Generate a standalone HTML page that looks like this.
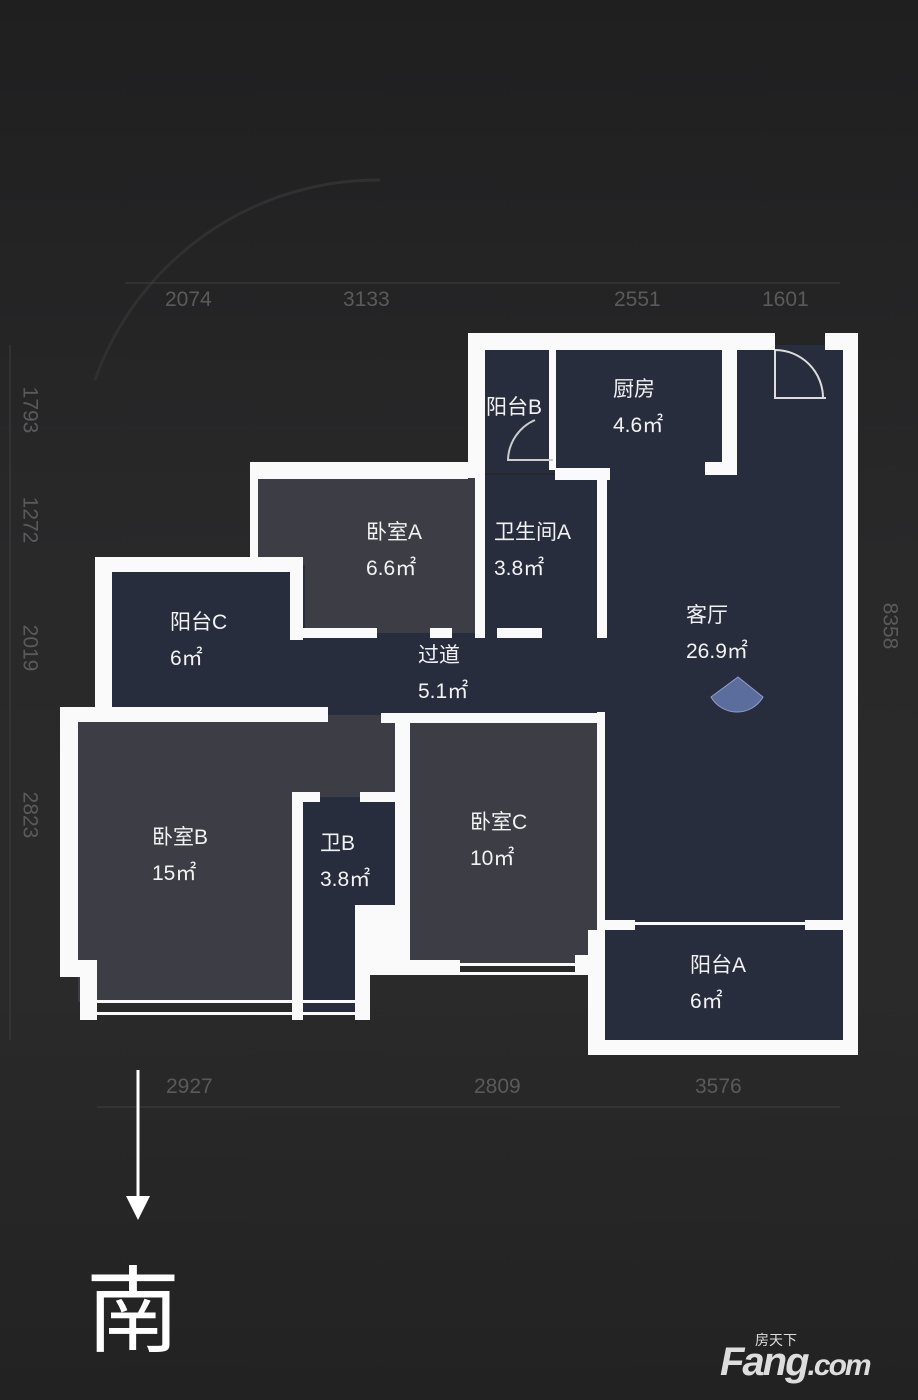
<!DOCTYPE html>
<html><head><meta charset="utf-8"><style>
body{margin:0;width:918px;height:1400px;overflow:hidden;background:linear-gradient(#1f1f20,#29292a 40%,#2a2a2b 70%,#222 100%);font-family:"Liberation Sans","Noto Sans CJK SC",sans-serif;position:relative}
.r{position:absolute}
.n{background:#272d3d}
.g{background:#3d3e45}
.w{background:#fafafa;position:absolute}
.t{position:absolute;color:#f2f2f2;font-size:21px;line-height:36px}
.d{position:absolute;color:#5a5a5a;font-size:21px}
</style></head><body>
<svg class="r" style="left:0;top:0" width="918" height="1400">
<path d="M95 380 A300 300 0 0 1 380 180" stroke="#303030" stroke-width="3" fill="none"/>
<line x1="125" y1="283" x2="840" y2="283" stroke="#3e3e3e"/>
<line x1="10" y1="345" x2="10" y2="1040" stroke="#3e3e3e"/>
<line x1="97" y1="1107" x2="840" y2="1107" stroke="#3e3e3e"/>
<line x1="138" y1="1070" x2="138" y2="1200" stroke="#fff" stroke-width="3"/>
<polygon points="126,1196 150,1196 138,1220" fill="#fff"/>
</svg>
<div class="d" style="left:165px;top:288px">2074</div>
<div class="d" style="left:343px;top:288px">3133</div>
<div class="d" style="left:614px;top:288px">2551</div>
<div class="d" style="left:762px;top:288px">1601</div>
<div class="d" style="left:166px;top:1075px">2927</div>
<div class="d" style="left:474px;top:1075px">2809</div>
<div class="d" style="left:695px;top:1075px">3576</div>
<div class="d" style="left:6px;top:398px;transform:rotate(90deg)">1793</div>
<div class="d" style="left:6px;top:508px;transform:rotate(90deg)">1272</div>
<div class="d" style="left:6px;top:636px;transform:rotate(90deg)">2019</div>
<div class="d" style="left:6px;top:803px;transform:rotate(90deg)">2823</div>
<div class="d" style="left:866px;top:614px;transform:rotate(90deg)">8358</div>

<div class="r n" style="left:603px;top:345px;width:242px;height:590px"></div>
<div class="r n" style="left:480px;top:345px;width:250px;height:128px"></div>
<div class="r g" style="left:258px;top:475px;width:220px;height:158px"></div>
<div class="r n" style="left:480px;top:475px;width:125px;height:158px"></div>
<div class="r n" style="left:105px;top:565px;width:200px;height:150px"></div>
<div class="r n" style="left:298px;top:633px;width:310px;height:82px"></div>
<div class="r g" style="left:78px;top:715px;width:222px;height:287px"></div>
<div class="r g" style="left:300px;top:715px;width:100px;height:85px"></div>
<div class="r n" style="left:300px;top:797px;width:60px;height:215px"></div>
<div class="r n" style="left:300px;top:797px;width:97px;height:110px"></div>
<div class="r g" style="left:405px;top:715px;width:195px;height:248px"></div>
<div class="r n" style="left:600px;top:930px;width:245px;height:115px"></div>

<div class="w" style="left:468px;top:333px;width:307px;height:17px"></div>
<div class="w" style="left:825px;top:333px;width:33px;height:17px"></div>
<div class="w" style="left:843px;top:333px;width:15px;height:722px"></div>
<div class="w" style="left:468px;top:333px;width:17px;height:145px"></div>
<div class="w" style="left:549px;top:350px;width:7px;height:120px"></div>
<div class="w" style="left:722px;top:350px;width:15px;height:125px"></div>
<div class="w" style="left:705px;top:462px;width:32px;height:13px"></div>
<div class="w" style="left:250px;top:462px;width:218px;height:17px"></div>
<div class="w" style="left:555px;top:468px;width:55px;height:12px"></div>
<div class="w" style="left:250px;top:462px;width:8px;height:110px"></div>
<div class="w" style="left:475px;top:478px;width:10px;height:160px"></div>
<div class="w" style="left:597px;top:478px;width:10px;height:160px"></div>
<div class="w" style="left:293px;top:628px;width:84px;height:10px"></div>
<div class="w" style="left:430px;top:628px;width:22px;height:10px"></div>
<div class="w" style="left:497px;top:628px;width:45px;height:10px"></div>
<div class="w" style="left:95px;top:557px;width:208px;height:15px"></div>
<div class="w" style="left:95px;top:557px;width:17px;height:158px"></div>
<div class="w" style="left:290px;top:565px;width:13px;height:75px"></div>
<div class="w" style="left:60px;top:707px;width:268px;height:15px"></div>
<div class="w" style="left:381px;top:713px;width:220px;height:10px"></div>
<div class="w" style="left:60px;top:707px;width:18px;height:270px"></div>
<div class="w" style="left:60px;top:960px;width:37px;height:17px"></div>
<div class="w" style="left:80px;top:960px;width:17px;height:60px"></div>
<div class="w" style="left:80px;top:1000px;width:280px;height:3px"></div>
<div class="w" style="left:80px;top:1012px;width:280px;height:3px"></div>
<div class="w" style="left:292px;top:792px;width:11px;height:228px"></div>
<div class="w" style="left:292px;top:792px;width:28px;height:10px"></div>
<div class="w" style="left:360px;top:792px;width:40px;height:10px"></div>
<div class="w" style="left:395px;top:715px;width:15px;height:260px"></div>
<div class="w" style="left:355px;top:905px;width:15px;height:115px"></div>
<div class="w" style="left:370px;top:905px;width:40px;height:70px"></div>
<div class="w" style="left:400px;top:960px;width:60px;height:15px"></div>
<div class="w" style="left:460px;top:963px;width:120px;height:3px"></div>
<div class="w" style="left:460px;top:972px;width:120px;height:3px"></div>
<div class="w" style="left:575px;top:955px;width:30px;height:20px"></div>
<div class="w" style="left:597px;top:712px;width:8px;height:250px"></div>
<div class="w" style="left:588px;top:930px;width:17px;height:125px"></div>
<div class="w" style="left:588px;top:1040px;width:270px;height:15px"></div>
<div class="w" style="left:605px;top:920px;width:30px;height:10px"></div>
<div class="w" style="left:635px;top:922px;width:200px;height:3px"></div>
<div class="w" style="left:805px;top:920px;width:40px;height:10px"></div>

<svg class="r" style="left:0;top:0" width="918" height="1400">
<path d="M775 350 L775 398 L826 398 M775 350 A48 48 0 0 1 823 398" stroke="#ddd" stroke-width="2" fill="none"/>
<path d="M553 460 L508 460 A45 45 0 0 1 535 420" stroke="#ccc" stroke-width="2" fill="none"/>
<path d="M738 677 L763 697 A30 30 0 0 1 711 697 Z" fill="#5a6d9c" stroke="#8fa0cc"/>
</svg>

<div class="t" style="left:486px;top:390px">阳台B</div>
<div class="t" style="left:613px;top:372px">厨房<br>4.6㎡</div>
<div class="t" style="left:366px;top:515px">卧室A<br>6.6㎡</div>
<div class="t" style="left:494px;top:515px">卫生间A<br>3.8㎡</div>
<div class="t" style="left:170px;top:605px">阳台C<br>6㎡</div>
<div class="t" style="left:418px;top:638px">过道<br>5.1㎡</div>
<div class="t" style="left:686px;top:598px">客厅<br>26.9㎡</div>
<div class="t" style="left:152px;top:820px">卧室B<br>15㎡</div>
<div class="t" style="left:320px;top:826px">卫B<br>3.8㎡</div>
<div class="t" style="left:470px;top:805px">卧室C<br>10㎡</div>
<div class="t" style="left:690px;top:948px">阳台A<br>6㎡</div>

<div class="r" style="left:86px;top:1236px;color:#fff;font-size:94px;font-family:'Noto Sans CJK SC',sans-serif">南</div>
<div class="r" style="left:755px;top:1330px;color:#ddd;font-size:14px">房天下</div>
<div class="r" style="left:720px;top:1340px;color:#ddd;font-size:40px;font-weight:bold;font-style:italic;letter-spacing:-2px">Fang<span style="font-size:30px">.com</span></div>
</body></html>
